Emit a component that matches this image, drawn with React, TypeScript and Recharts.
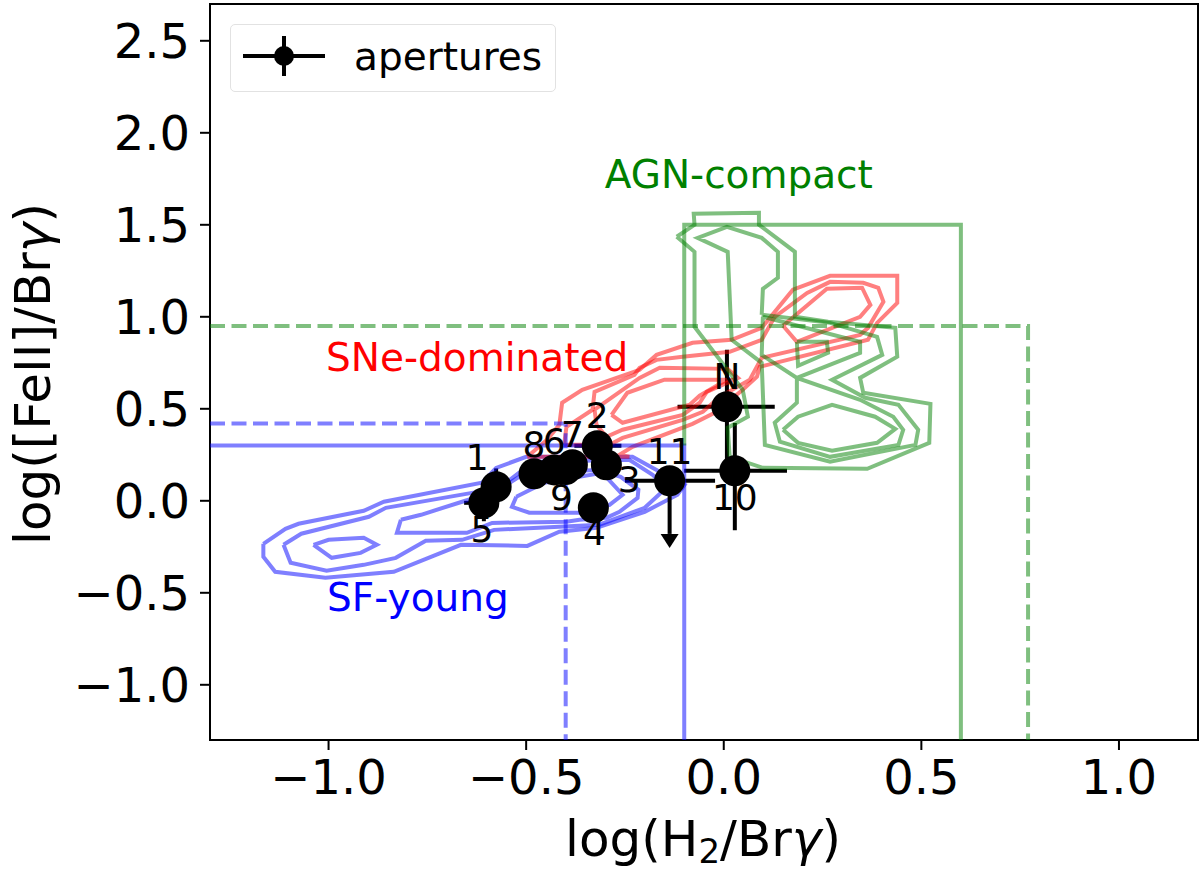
import { ErrorBar, Label, Legend, ReferenceArea, Scatter, ScatterChart, XAxis, YAxis } from 'recharts';

type Pt = [number, number];

const FONT = 'DejaVu Sans';
const xTicks = [-1, -0.5, 0, 0.5, 1];
const yTicks = [-1, -0.5, 0, 0.5, 1, 1.5, 2, 2.5];

const blueOuter: Pt[] = [[-1.165, -0.234], [-1.109, -0.152], [-1.076, -0.125], [-0.911, -0.054], [-0.86, -0.005], [-0.612, 0.098], [-0.576, 0.179], [-0.5, 0.239], [-0.231, 0.239], [-0.162, 0.158], [-0.099, 0.087], [-0.117, 0.033], [-0.2, -0.06], [-0.322, -0.147], [-0.416, -0.168], [-0.497, -0.245], [-0.665, -0.239], [-0.835, -0.386], [-1.008, -0.418], [-1.135, -0.386], [-1.165, -0.304]];
const blueMid: Pt[] = [[-1.114, -0.239], [-1.069, -0.179], [-0.898, -0.087], [-0.855, -0.038], [-0.637, 0.043], [-0.561, 0.071], [-0.518, 0.13], [-0.467, 0.212], [-0.239, 0.223], [-0.18, 0.141], [-0.145, 0.071], [-0.2, -0.038], [-0.315, -0.13], [-0.416, -0.141], [-0.581, -0.158], [-0.662, -0.212], [-0.754, -0.217], [-0.83, -0.31], [-0.911, -0.348], [-1.005, -0.38], [-1.096, -0.337]];
const blueInner: Pt[] = [[-0.817, -0.103], [-0.766, -0.076], [-0.662, -0.005], [-0.581, 0.049], [-0.518, 0.152], [-0.315, 0.168], [-0.261, 0.13], [-0.216, 0.06], [-0.218, 0.016], [-0.264, -0.06], [-0.297, -0.092], [-0.365, -0.103], [-0.398, -0.114], [-0.586, -0.12], [-0.65, -0.174], [-0.827, -0.174]];
const blueCore: Pt[] = [[-0.525, 0.022], [-0.536, -0.033], [-0.492, -0.065], [-0.365, -0.065], [-0.289, -0.022], [-0.256, 0.033], [-0.307, 0.152], [-0.454, 0.098]];
const blueLeftCore: Pt[] = [[-1.038, -0.239], [-1, -0.212], [-0.911, -0.201], [-0.878, -0.239], [-0.919, -0.283], [-0.992, -0.31]];

const redOuter: Pt[] = [[-0.497, 0.239], [-0.447, 0.332], [-0.416, 0.413], [-0.409, 0.533], [-0.358, 0.603], [-0.213, 0.712], [-0.17, 0.793], [-0.079, 0.859], [0.02, 0.875], [0.096, 0.94], [0.175, 1.147], [0.269, 1.223], [0.439, 1.223], [0.439, 1.076], [0.388, 0.967], [0.365, 0.875], [0.091, 0.728], [0.084, 0.674], [0.048, 0.603], [-0.023, 0.478], [-0.079, 0.418], [-0.231, 0.293], [-0.264, 0.25], [-0.239, 0.239]];
const redMid: Pt[] = [[-0.404, 0.304], [-0.398, 0.402], [-0.332, 0.495], [-0.327, 0.592], [-0.226, 0.685], [-0.213, 0.723], [-0.17, 0.766], [-0.104, 0.783], [0.015, 0.81], [0.096, 0.875], [0.129, 1], [0.211, 1.13], [0.269, 1.19], [0.353, 1.185], [0.391, 1.158], [0.404, 1.082], [0.365, 0.94], [0.345, 0.902], [0.096, 0.777], [0.066, 0.658], [-0.01, 0.565], [-0.053, 0.484], [-0.104, 0.44], [-0.256, 0.342], [-0.289, 0.304]];
const redTip: Pt[] = [[-0.327, 0.495], [-0.213, 0.668], [-0.162, 0.723], [0.01, 0.717], [0.036, 0.668], [-0.043, 0.592], [-0.061, 0.533], [-0.104, 0.467], [-0.256, 0.386], [-0.297, 0.348], [-0.322, 0.413]];
const redCore: Pt[] = [[-0.284, 0.467], [-0.244, 0.587], [-0.15, 0.658], [0.008, 0.658], [-0.061, 0.571], [-0.086, 0.522], [-0.256, 0.424]];
const redTop: Pt[] = [[0.15, 0.951], [0.261, 1.152], [0.35, 1.158], [0.371, 1.065], [0.345, 1], [0.185, 0.864]];

const greenOuter: Pt[] = [[-0.119, 1.435], [-0.074, 1.5], [-0.076, 1.56], [0.089, 1.565], [0.089, 1.5], [0.18, 1.353], [0.18, 1], [0.264, 0.973], [0.434, 0.94], [0.439, 0.783], [0.345, 0.668], [0.353, 0.587], [0.523, 0.527], [0.52, 0.315], [0.363, 0.174], [0.099, 0.179], [0.015, 0.239], [0.01, 0.397], [0.061, 0.457], [0.048, 0.603], [-0.074, 0.946], [-0.074, 1.353]];
const greenMid: Pt[] = [[0.096, 1.011], [0.269, 0.967], [0.388, 0.891], [0.401, 0.793], [0.274, 0.658], [0.358, 0.56], [0.442, 0.522], [0.492, 0.386], [0.485, 0.304], [0.269, 0.212], [0.104, 0.304], [0.096, 0.75], [0.02, 0.875], [0.01, 1.353], [-0.066, 1.429], [0.008, 1.489], [0.096, 1.429], [0.137, 1.353], [0.137, 1.212], [0.099, 1.152]];
const greenLoop: Pt[] = [[0.099, 1], [0.345, 0.864], [0.345, 0.804], [0.185, 0.668], [0.185, 0.533], [0.129, 0.424], [0.142, 0.321], [0.269, 0.239], [0.442, 0.304], [0.454, 0.386], [0.429, 0.457], [0.345, 0.549], [0.185, 0.668], [0.096, 0.793]];
const greenLow: Pt[] = [[0.15, 0.386], [0.188, 0.457], [0.274, 0.522], [0.383, 0.457], [0.434, 0.391], [0.388, 0.315], [0.274, 0.272], [0.188, 0.315]];
const greenSmall: Pt[] = [[0.185, 0.864], [0.261, 0.864], [0.264, 0.804], [0.188, 0.734]];

const blueBox: Pt[] = [[-1.3, 0.3], [-0.1, 0.3], [-0.1, -1.3]];
const blueDashed: Pt[] = [[-1.3, 0.42], [-0.4, 0.42], [-0.4, -1.3]];
const greenBox: Pt[] = [[-0.1, 0.3], [-0.1, 1.5], [0.6, 1.5], [0.6, -1.3]];
const greenDashed: Pt[] = [[-1.3, 0.95], [0.77, 0.95], [0.77, -1.3]];

const apertures = [
  { x: -0.576, y: 0.076, xErr: [0.03, 0.03], yErr: [0.1, 0.1] },
  { x: -0.32, y: 0.299, xErr: [0.058, 0.061], yErr: [0.05, 0.05] },
  { x: -0.297, y: 0.196, xErr: [0.03, 0.03], yErr: [0.05, 0.05] },
  { x: -0.33, y: -0.038, xErr: [0.03, 0.03], yErr: [0.05, 0.05] },
  { x: -0.607, y: -0.011, xErr: [0.05, 0.03], yErr: [0.1, 0.1] },
  { x: -0.429, y: 0.168, xErr: [0.03, 0.03], yErr: [0.05, 0.05] },
  { x: -0.383, y: 0.196, xErr: [0.03, 0.03], yErr: [0.05, 0.05] },
  { x: -0.48, y: 0.147, xErr: [0.03, 0.03], yErr: [0.05, 0.05] },
  { x: -0.4, y: 0.17, xErr: [0.03, 0.03], yErr: [0.05, 0.05] },
  { x: 0.028, y: 0.163, xErr: [0.128, 0.132], yErr: [0.323, 0.26] },
  { x: -0.137, y: 0.109, xErr: [0.113, 0.115], yErr: [0, 0] },
  { x: 0.008, y: 0.511, xErr: [0.125, 0.121], yErr: [0.31, 0.31] }
];

const pointNames: { x: number; y: number; name: string }[] = [
  { x: -0.624, y: 0.234, name: '1' },
  { x: -0.32, y: 0.462, name: '2' },
  { x: -0.239, y: 0.114, name: '3' },
  { x: -0.327, y: -0.174, name: '4' },
  { x: -0.612, y: -0.158, name: '5' },
  { x: -0.429, y: 0.323, name: '6' },
  { x: -0.383, y: 0.359, name: '7' },
  { x: -0.48, y: 0.304, name: '8' },
  { x: -0.411, y: 0.016, name: '9' },
  { x: 0.028, y: 0.016, name: '10' },
  { x: -0.137, y: 0.266, name: '11' },
  { x: 0.008, y: 0.674, name: 'N' }
];

const regionNames = [
  { x: 0.038, y: 1.772, name: 'AGN-compact', color: '#008000' },
  { x: -0.624, y: 0.777, name: 'SNe-dominated', color: '#ff0000' },
  { x: -0.774, y: -0.527, name: 'SF-young', color: '#0000ff' }
];

const limitStem: Pt[] = [[-0.137, 0.109], [-0.137, -0.18]];
const limitHead = [{ x: -0.137, y: -0.18 }];

const toRows = (pts: Pt[], closed = false) => {
  const rows = pts.map(([x, y]) => ({ x, y }));
  return closed ? [...rows, rows[0]] : rows;
};

const noDot = () => <g />;

const Path = ({ pts, color, closed = false, dashed = false }: { pts: Pt[]; color: string; closed?: boolean; dashed?: boolean }) => (
  <Scatter
    data={toRows(pts, closed)}
    isAnimationActive={false}
    shape={noDot}
    line={{ stroke: color, strokeWidth: 4, strokeOpacity: 0.5, strokeDasharray: dashed ? '15 6.5' : undefined, fill: 'none' }}
    lineType="joint"
  />
);

const NameText = (props: any) => (
  <text x={props.cx} y={props.cy} textAnchor="middle" dominantBaseline="central" fontFamily={FONT} fontSize={props.size} fill={props.color ?? '#000'}>
    {props.name}
  </text>
);

const ArrowHead = (props: any) => (
  <path d={`M${props.cx - 9} ${props.cy}L${props.cx + 9} ${props.cy}L${props.cx} ${props.cy + 14}Z`} fill="#000" />
);

const LegendBox = () => (
  <div style={{ width: 326, height: 68, border: '1.5px solid #e2e2e2', borderRadius: 5, background: '#fff', display: 'flex', alignItems: 'center', boxSizing: 'border-box' }}>
    <svg width={123} height={64}>
      <line x1={12} x2={94} y1={30} y2={30} stroke="#000" strokeWidth={4} />
      <line x1={53} x2={53} y1={10} y2={50} stroke="#000" strokeWidth={4} />
      <circle cx={53} cy={30} r={10} fill="#000" />
    </svg>
    <span style={{ fontFamily: FONT, fontSize: 39, color: '#000', marginTop: -4 }}>apertures</span>
  </div>
);

const XTitle = () => (
  <text x={703} y={856} textAnchor="middle" fontFamily={FONT} fontSize={50} fill="#000">
    log(H<tspan dy={7} fontSize={34}>2</tspan><tspan dy={-7}>/Br</tspan><tspan fontStyle="italic">γ</tspan>)
  </text>
);

const YTitle = () => (
  <text x={0} y={0} transform="translate(50 374) rotate(-90)" textAnchor="middle" fontFamily={FONT} fontSize={50} fill="#000">
    log([FeII]/Br<tspan fontStyle="italic">γ</tspan>)
  </text>
);

const minusTick = (v: number) => v.toFixed(1).replace('-', '\u2212');

export default function App() {
  return (
    <div style={{ position: 'absolute', left: 0, top: 0, width: 1200, height: 871 }}>
      <ScatterChart width={1200} height={871} margin={{ top: 4, right: 2, bottom: 0, left: 0 }}>
        <XAxis
          type="number"
          dataKey="x"
          domain={[-1.3, 1.2]}
          ticks={xTicks}
          height={131}
          tickFormatter={minusTick}
          tick={{ fontFamily: FONT, fontSize: 48, fill: '#000' }}
          tickLine={{ stroke: '#000', strokeWidth: 2 }}
          axisLine={{ stroke: '#000', strokeWidth: 2 }}
          tickSize={10}
          tickMargin={10}
          allowDataOverflow
          interval={0}
        >
          <Label content={<XTitle />} />
        </XAxis>
        <YAxis
          type="number"
          dataKey="y"
          domain={[-1.3, 2.7]}
          ticks={yTicks}
          width={210}
          tickFormatter={minusTick}
          tick={{ fontFamily: FONT, fontSize: 48, fill: '#000' }}
          tickLine={{ stroke: '#000', strokeWidth: 2 }}
          axisLine={{ stroke: '#000', strokeWidth: 2 }}
          tickSize={10}
          tickMargin={10}
          allowDataOverflow
          interval={0}
        >
          <Label content={<YTitle />} />
        </YAxis>
        <ReferenceArea x1={-1.3} x2={1.2} y1={-1.3} y2={2.7} fill="none" stroke="#000" strokeWidth={2} />

        <Path pts={blueOuter} color="#0000ff" closed />
        <Path pts={blueMid} color="#0000ff" closed />
        <Path pts={blueInner} color="#0000ff" closed />
        <Path pts={blueCore} color="#0000ff" closed />
        <Path pts={blueLeftCore} color="#0000ff" closed />
        <Path pts={redOuter} color="#ff0000" closed />
        <Path pts={redMid} color="#ff0000" closed />
        <Path pts={redTip} color="#ff0000" closed />
        <Path pts={redCore} color="#ff0000" closed />
        <Path pts={redTop} color="#ff0000" closed />
        <Path pts={greenOuter} color="#008000" closed />
        <Path pts={greenMid} color="#008000" closed />
        <Path pts={greenLoop} color="#008000" closed />
        <Path pts={greenLow} color="#008000" closed />
        <Path pts={greenSmall} color="#008000" closed />
        <Path pts={blueBox} color="#0000ff" />
        <Path pts={blueDashed} color="#0000ff" dashed />
        <Path pts={greenBox} color="#008000" />
        <Path pts={greenDashed} color="#008000" dashed />

        <Scatter
          data={toRows(limitStem)}
          isAnimationActive={false}
          shape={noDot}
          line={{ stroke: '#000', strokeWidth: 4 }}
          lineType="joint"
        />
        <Scatter data={limitHead} isAnimationActive={false} shape={ArrowHead} />
        <Scatter
          data={apertures}
          isAnimationActive={false}
          shape={(p: any) => <circle cx={p.cx} cy={p.cy} r={15.5} fill="#000" />}
        >
          <ErrorBar dataKey="xErr" direction="x" width={0} stroke="#000" strokeWidth={4} isAnimationActive={false} />
          <ErrorBar dataKey="yErr" direction="y" width={0} stroke="#000" strokeWidth={4} isAnimationActive={false} />
        </Scatter>
        <Scatter
          data={pointNames}
          isAnimationActive={false}
          shape={(p: any) => <NameText cx={p.cx} cy={p.cy} name={p.name} size={36} />}
        />
        <Scatter
          data={regionNames}
          isAnimationActive={false}
          shape={(p: any) => <NameText cx={p.cx} cy={p.cy} name={p.name} size={39} color={p.color} />}
        />
        <Legend
          layout="horizontal"
          align="center"
          verticalAlign="middle"
          content={<LegendBox />}
          wrapperStyle={{ position: 'absolute', left: 230, top: 24, width: 326, height: 68 }}
        />
      </ScatterChart>
    </div>
  );
}
